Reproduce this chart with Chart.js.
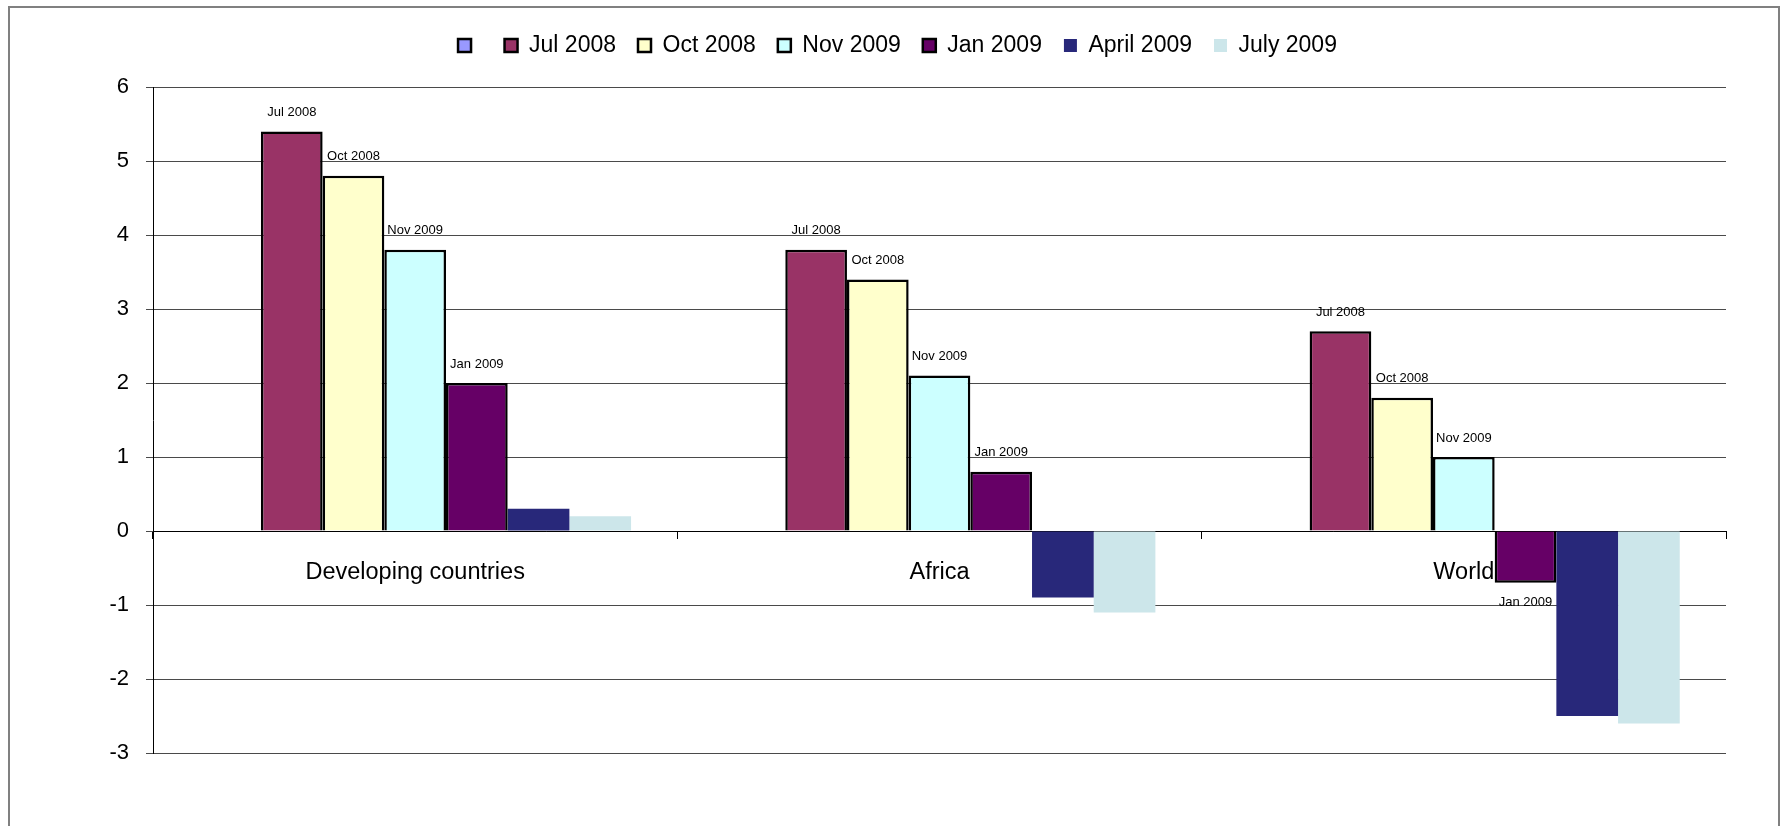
<!DOCTYPE html>
<html>
<head>
<meta charset="utf-8">
<title>Growth by region</title>
<script src="https://cdn.jsdelivr.net/npm/chart.js@4"></script>
<style>
  html, body { margin: 0; padding: 0; background: #ffffff; }
  #wrap { width: 1785px; height: 826px; position: relative; }
</style>
</head>
<body>
<div id="wrap"><canvas id="chart" width="1785" height="826"></canvas></div>
<script>
// Regions on the category axis
const categories = ['Developing countries', 'Africa', 'World'];

// Series names, in legend order (the first series is an unnamed, empty one)
const seriesNames = ['', 'Jul 2008', 'Oct 2008', 'Nov 2009', 'Jan 2009', 'April 2009', 'July 2009'];

// Values per region
const blankSeries = [null, null, null];
const jul2008 = [5.4, 3.8, 2.7];
const oct2008 = [4.8, 3.4, 1.8];
const nov2009 = [3.8, 2.1, 1.0];
const jan2009 = [2.0, 0.8, -0.7];
const apr2009 = [0.3, -0.9, -2.5];
const jul2009 = [0.2, -1.1, -2.6];

// Value axis range and step
const yMin = -3;
const yMax = 6;
const yStep = 1;

const FONT = "'Liberation Sans', Arial, sans-serif";

const seriesValues = [blankSeries, jul2008, oct2008, nov2009, jan2009, apr2009, jul2009];
const fills = ['#9999FF', '#993366', '#FFFFCC', '#CCFFFF', '#660066', '#28287A', '#CCE6EA'];
const outlined = [true, true, true, true, true, false, false];
const labelled = [false, true, true, true, true, false, false];

const datasets = seriesNames.map((name, i) => ({
  label: name,
  data: seriesValues[i],
  backgroundColor: fills[i],
  borderColor: outlined[i] ? '#000000' : fills[i],
  borderWidth: outlined[i] ? 2.5 : 0,
  showSeriesName: labelled[i]
}));

// Gray frame around the whole figure
const framePlugin = {
  id: 'frame',
  beforeDraw(chart) {
    const ctx = chart.ctx;
    ctx.save();
    ctx.strokeStyle = '#808080';
    ctx.lineWidth = 2;
    ctx.strokeRect(9, 7, 1770, 840);
    ctx.restore();
  }
};

// Extra room between legend and plot
const legendSpacing = {
  id: 'legendSpacing',
  beforeInit(chart) {
    const origFit = chart.legend.fit;
    chart.legend.fit = function () {
      origFit.bind(chart.legend)();
      this.height += 20;
    };
  }
};

// Series name written above (or below, for negatives) each outlined bar
const seriesNameLabels = {
  id: 'seriesNameLabels',
  afterDatasetsDraw(chart) {
    const ctx = chart.ctx;
    ctx.save();
    ctx.font = '13px ' + FONT;
    ctx.fillStyle = '#000000';
    ctx.textAlign = 'center';
    ctx.textBaseline = 'middle';
    chart.data.datasets.forEach((ds, di) => {
      if (!ds.showSeriesName) return;
      const meta = chart.getDatasetMeta(di);
      meta.data.forEach((bar, idx) => {
        const v = ds.data[idx];
        if (v === null || v === undefined) return;
        const y = v >= 0 ? bar.y - 19 : bar.y + 20;
        ctx.fillText(ds.label, bar.x, y);
      });
    });
    ctx.restore();
  }
};

new Chart(document.getElementById('chart'), {
  type: 'bar',
  data: { labels: categories, datasets: datasets },
  options: {
    responsive: false,
    animation: false,
    layout: { padding: { left: 69, right: 59, top: 12, bottom: 73 } },
    datasets: {
      bar: { categoryPercentage: 7 / 8.5, barPercentage: 1.0 }
    },
    plugins: {
      legend: {
        position: 'top',
        labels: {
          font: { family: FONT, size: 23 },
          color: '#000000',
          boxWidth: 13,
          boxHeight: 13,
          padding: 22
        }
      },
      tooltip: { enabled: false }
    },
    scales: {
      x: {
        type: 'category',
        position: { y: 0 },
        offset: true,
        grid: {
          offset: true,
          drawOnChartArea: false,
          drawTicks: true,
          tickLength: 7,
          color: '#000000'
        },
        border: { display: true, color: '#000000', width: 1 },
        ticks: {
          font: { family: FONT, size: 23.5 },
          color: '#000000',
          padding: 20
        }
      },
      y: {
        min: yMin,
        max: yMax,
        afterFit(scale) { scale.width = 84; },
        ticks: {
          stepSize: yStep,
          font: { family: FONT, size: 22 },
          color: '#000000',
          padding: 17
        },
        grid: {
          color: '#4a4a4a',
          lineWidth: 1,
          tickLength: 7
        },
        border: { display: true, color: '#000000', width: 1 }
      }
    }
  },
  plugins: [framePlugin, legendSpacing, seriesNameLabels]
});
</script>
</body>
</html>
